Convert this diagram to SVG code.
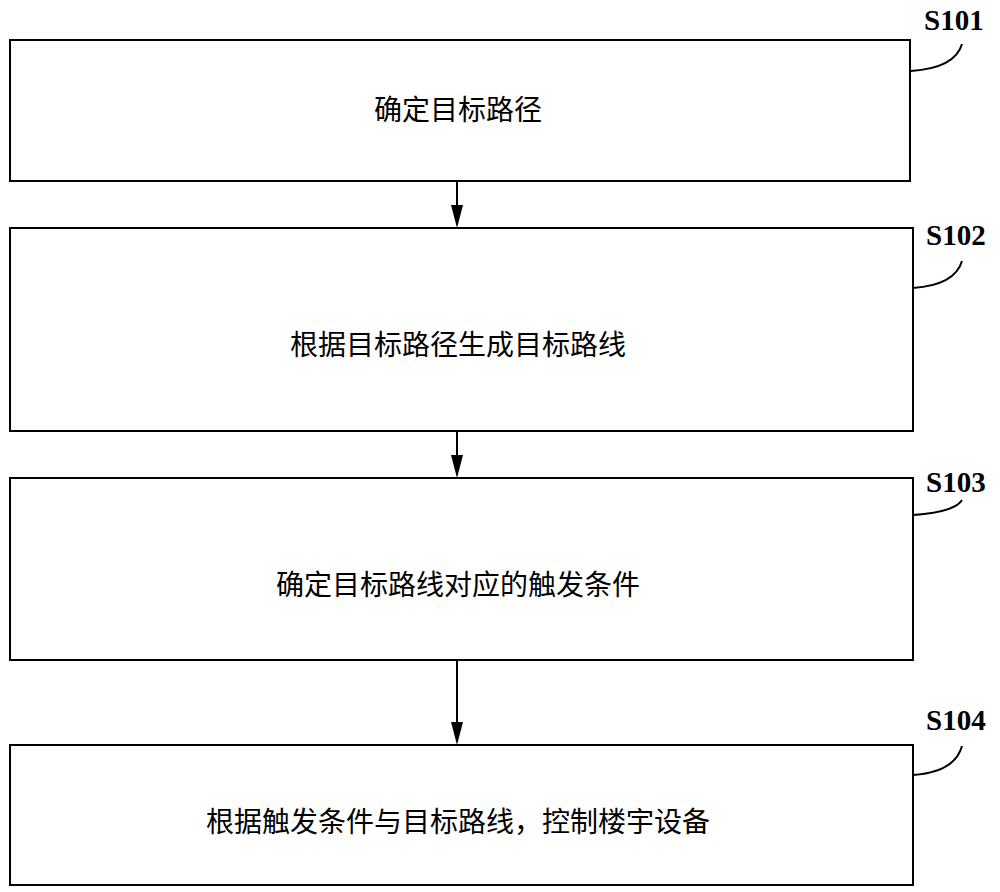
<svg xmlns="http://www.w3.org/2000/svg" width="1000" height="892" viewBox="0 0 1000 892">
<defs><marker id="ah" viewBox="0 0 12 22" refX="12" refY="6" markerWidth="22" markerHeight="12" markerUnits="userSpaceOnUse" orient="auto"><path d="M0,0 L22,6 L0,12 z" fill="#000"/></marker>
<style>.b{fill:#fff;stroke:#000;stroke-width:2}.t{font-family:"Noto Sans CJK SC",sans-serif;font-size:28px;text-anchor:middle}.l{font-family:"Liberation Serif",serif;font-weight:bold;font-size:29px}.c{fill:none;stroke:#000;stroke-width:2}</style></defs>
<rect width="1000" height="892" fill="#fff"/>
<g id="n1"><rect class="b" x="10" y="40" width="900" height="141"/><text class="t" x="458" y="120">确定目标路径</text><text class="l" x="924" y="30">S101</text></g>
<g id="n2"><rect class="b" x="10" y="228" width="903" height="203"/><text class="t" x="458" y="355">根据目标路径生成目标路线</text><text class="l" x="926" y="245">S102</text></g>
<g id="n3"><rect class="b" x="10" y="478" width="903" height="182"/><text class="t" x="458" y="595">确定目标路线对应的触发条件</text><text class="l" x="926" y="492">S103</text></g>
<g id="n4"><rect class="b" x="10" y="745" width="903" height="140"/><text class="t" x="458" y="832">根据触发条件与目标路线，控制楼宇设备</text><text class="l" x="926" y="730">S104</text></g>
<g id="connectors">
<path class="c" d="M911,71 Q955,68 962,44"/>
<path class="c" d="M913,288 Q955,285 962,261"/>
<path class="c" d="M913,515 Q955,512 962,500"/>
<path class="c" d="M913,775 Q955,772 962,746"/>
<line class="c" x1="457" y1="181" x2="457" y2="206"/>
<path d="M451,205 L463,205 L457,228 z"/>
<line class="c" x1="457" y1="431" x2="457" y2="456"/>
<path d="M451,455 L463,455 L457,478 z"/>
<line class="c" x1="457" y1="660" x2="457" y2="723"/>
<path d="M451,722 L463,722 L457,745 z"/>
</g>
</svg>
